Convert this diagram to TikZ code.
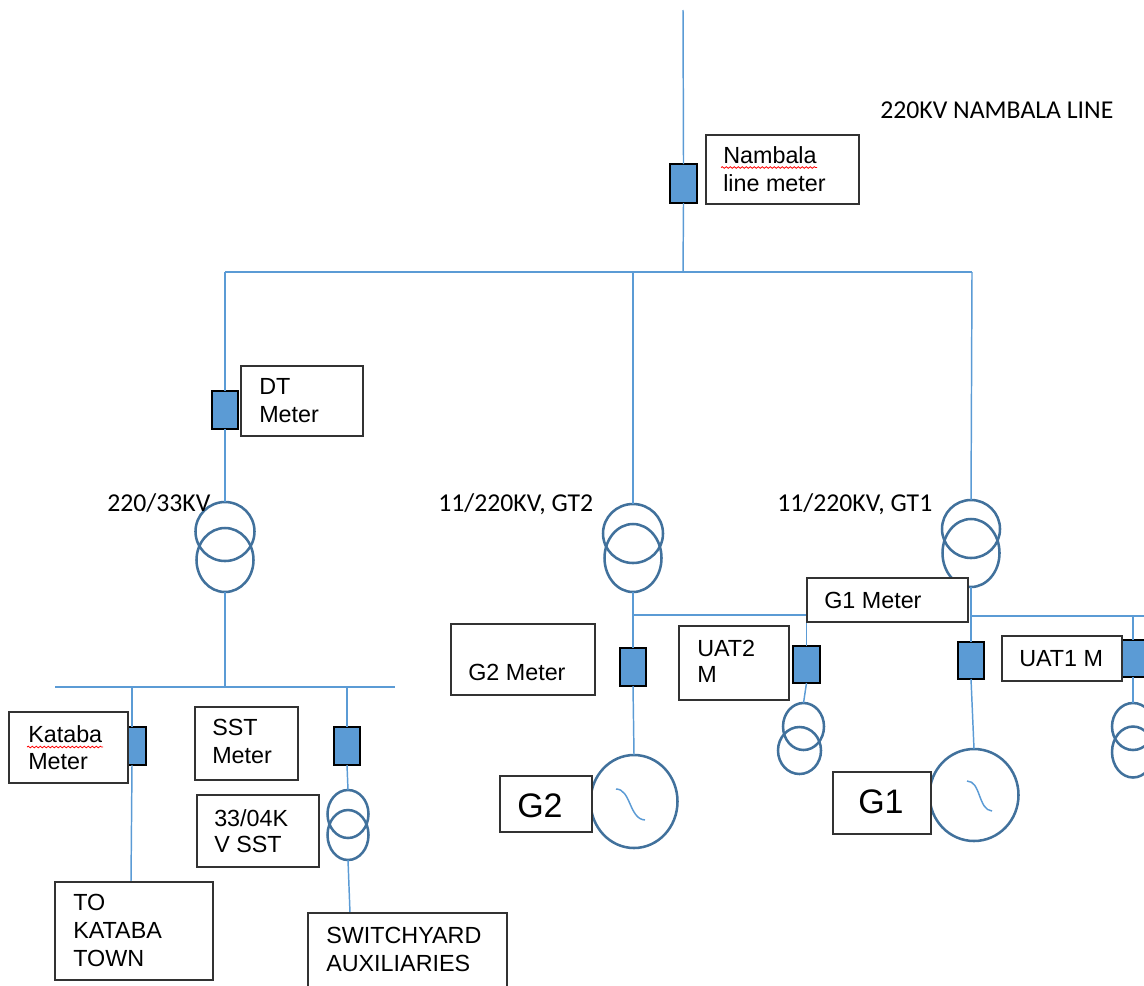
\documentclass[tikz,border=0pt]{standalone}
\usepackage{fontspec}
\setmainfont{Liberation Sans}
\newfontfamily\calfont{Carlito}
\usetikzlibrary{shapes.geometric,decorations.pathmorphing}
\definecolor{cwire}{RGB}{91,155,213}
\definecolor{ccoil}{RGB}{65,113,156}
\definecolor{mfill}{RGB}{91,155,213}
\definecolor{bord}{RGB}{50,50,50}
\newcommand\bxnode[6]{\node[#6, minimum width={(#4-#2)*0.75pt}, minimum height={(#5-#3)*0.75pt}] (#1) at ({(#2+#4)/2},{(#3+#5)/2}) {};}
\newcommand\elnode[5]{\node[coilst, minimum width={#4*0.75pt}, minimum height={#5*0.75pt}] (#1) at (#2,#3) {};}
\tikzset{
  wirest/.style={draw=cwire, line width=1.1pt},
  meter/.style={draw=black, fill=mfill, line width=1.5pt, inner sep=0pt, outer sep=0pt, rectangle},
  tbox/.style={draw=bord, line width=1.1pt, fill=white, inner sep=0pt, outer sep=0pt, rectangle},
  coilst/.style={ellipse, draw=ccoil, line width=1.9pt, inner sep=0pt, outer sep=0pt},
  gen/.style={ellipse, draw=ccoil, line width=1.9pt, inner sep=0pt, outer sep=0pt, fill=white},
  lbl/.style={anchor=base west, inner sep=0pt, font=\fontsize{17.5}{21}\selectfont},
  big/.style={anchor=base west, inner sep=0pt, font=\fontsize{25.5}{30}\selectfont},
  cal/.style={anchor=base west, inner sep=0pt, font=\calfont\fontsize{19.3}{23}\selectfont},
  tilde/.style={draw=cwire, line width=1.1pt},
  spell/.style={draw=red, line width=0.6pt, decorate, decoration={snake, amplitude=0.6pt, segment length=3pt}}
}
\begin{document}
\begin{tikzpicture}[x=0.75pt,y=-0.75pt]
\useasboundingbox (0,0) rectangle (1144,985);
% ---------- coordinates ----------
\coordinate (lineTop) at (683,10);
\coordinate (jTop) at (683,272);
\coordinate (busL) at (225,272);
\coordinate (busR) at (972,272);
\coordinate (bGT2) at (633,272);
\coordinate (bus2L) at (55,687);
\coordinate (bus2R) at (395,687);
\coordinate (bus2c) at (225,687);
\coordinate (kx) at (132,687);
\coordinate (sx) at (347,687);
\coordinate (j2) at (633,615);
\coordinate (j2r) at (806.5,615);
\coordinate (j1) at (971,616);
\coordinate (j1r) at (1144,616);
\coordinate (u1x) at (1133,616);
% ---------- transformers & generators ----------
\elnode{t1a}{225}{531.5}{59}{59}
\elnode{t1b}{225}{560}{57}{64}
\elnode{t2a}{633}{533.5}{60}{59}
\elnode{t2b}{633}{558}{57}{68}
\elnode{t3a}{971}{529}{58}{58}
\elnode{t3b}{971}{553}{57}{68}
\elnode{ssta}{348}{814}{41}{48}
\elnode{sstb}{348}{835}{41}{50}
\elnode{u2a}{803.5}{726.5}{41}{47}
\elnode{u2b}{799.5}{750.5}{43}{47}
\elnode{u1a}{1133}{726.5}{42}{47}
\elnode{u1b}{1133}{752}{42}{51}
\node[gen, minimum width={87*0.75pt}, minimum height={93*0.75pt}] (g2) at (634,801.5) {};
\node[gen, minimum width={89*0.75pt}, minimum height={92*0.75pt}] (g1) at (974,795) {};
% ---------- meters ----------
\bxnode{nm}{670}{164}{697}{203}{meter}
\bxnode{dtm}{212}{391}{238}{429}{meter}
\bxnode{km}{128}{727}{146}{765}{meter}
\bxnode{sm}{334}{727}{360}{765}{meter}
\bxnode{g2m}{620}{648}{646}{686}{meter}
\bxnode{u2m}{793}{646}{820}{683}{meter}
\bxnode{g1m}{958}{642}{984}{679}{meter}
\bxnode{u1m}{1122}{640}{1152}{677}{meter}
% ---------- wires ----------
\draw[wirest] (lineTop) -- (nm.north);
\draw[wirest] (nm.south) -- (jTop);
\draw[wirest] (busL) -- (busR);
\draw[wirest] (busL) -- (dtm.north);
\draw[wirest] (dtm.south) -- (t1a.north);
\draw[wirest] (t1b.south) -- (bus2c);
\draw[wirest] (bus2L) -- (bus2R);
\draw[wirest] (kx) -- (kx |- km.north);
\draw[wirest] (kx |- km.south) -- (131,882);
\draw[wirest] (sx) -- (sm.north);
\draw[wirest] (sm.south) -- (ssta.north);
\draw[wirest] (sstb.south) -- (350,913);
\draw[wirest] (bGT2) -- (t2a.north);
\draw[wirest] (t2b.south) -- (g2m.north);
\draw[wirest] (j2) -- (j2r);
\draw[wirest] (j2r) -- (u2m.north);
\draw[wirest] (u2m.south) -- (u2a.north);
\draw[wirest] (g2m.south) -- (g2.north);
\draw[wirest] (busR) -- (t3a.north);
\draw[wirest] (t3b.south) -- (g1m.north);
\draw[wirest] (j1) -- (j1r);
\draw[wirest] (u1x) -- (u1x |- u1m.north);
\draw[wirest] (u1x |- u1m.south) -- (u1a.north);
\draw[wirest] (g1m.south) -- (g1.north);
% generator symbols
\draw[tilde] (616,789) .. controls (631,789) and (629,819) .. (645,820);
\draw[tilde] (967,781) .. controls (981,781) and (978,810) .. (992,811);
% ---------- text boxes ----------
\bxnode{nmb}{706}{135}{859}{204}{tbox}
\bxnode{dtb}{241}{366}{363}{436}{tbox}
\bxnode{kb}{9}{712}{128}{783}{tbox}
\bxnode{sb}{195}{707}{298}{780}{tbox}
\bxnode{ssb}{197}{795}{319}{867}{tbox}
\bxnode{tkb}{55}{882}{213}{980}{tbox}
\bxnode{swb}{308}{913}{507}{990}{tbox}
\bxnode{g2b}{451}{624}{595}{695}{tbox}
\bxnode{g2n}{500}{776}{592}{832}{tbox}
\bxnode{u2b2}{679}{626}{789}{700}{tbox}
\bxnode{g1b}{807}{578}{968}{622}{tbox}
\bxnode{u1b2}{1002}{636}{1122}{681}{tbox}
\bxnode{g1n}{833}{772}{931}{834}{tbox}
% ---------- texts ----------
\node[lbl] (tx1) at (723,163) {Nambala};
\node[lbl] (tx2) at (723,191) {line meter};
\draw[spell] (721,167.5) -- (817,167.5);
\node[lbl] (tx3) at (259,394) {DT};
\node[lbl] (tx4) at (259,422) {Meter};
\node[lbl] (tx5) at (28,742) {Kataba};
\node[lbl] (tx6) at (28,769) {Meter};
\draw[spell] (27,747) -- (103,747);
\node[lbl] (tx7) at (212,735) {SST};
\node[lbl] (tx8) at (212,763) {Meter};
\node[lbl] (tx9) at (214,826) {33/04K};
\node[lbl] (tx10) at (214,852) {V SST};
\node[lbl] (tx11) at (73,910) {TO};
\node[lbl] (tx12) at (73,938) {KATABA};
\node[lbl] (tx13) at (73,966) {TOWN};
\node[lbl] (tx14) at (326,943) {SWITCHYARD};
\node[lbl] (tx15) at (326,971) {AUXILIARIES};
\node[lbl] (tx16) at (468,680) {G2 Meter};
\node[lbl] (tx17) at (697,656) {UAT2};
\node[lbl] (tx18) at (697,682) {M};
\node[lbl] (tx19) at (824,608) {G1 Meter};
\node[lbl] (tx20) at (1019,666) {UAT1 M};
\node[big] (tx21) at (858,813) {G1};
\node[big] (tx22) at (517,817) {G2};
\node[cal] (tx23) at (880,118) {220KV NAMBALA LINE};
\node[cal] (tx24) at (107,511) {220/33KV};
\node[cal] (tx25) at (438,511) {11/220KV, GT2};
\node[cal] (tx26) at (777,511) {11/220KV, GT1};
\end{tikzpicture}
\end{document}
